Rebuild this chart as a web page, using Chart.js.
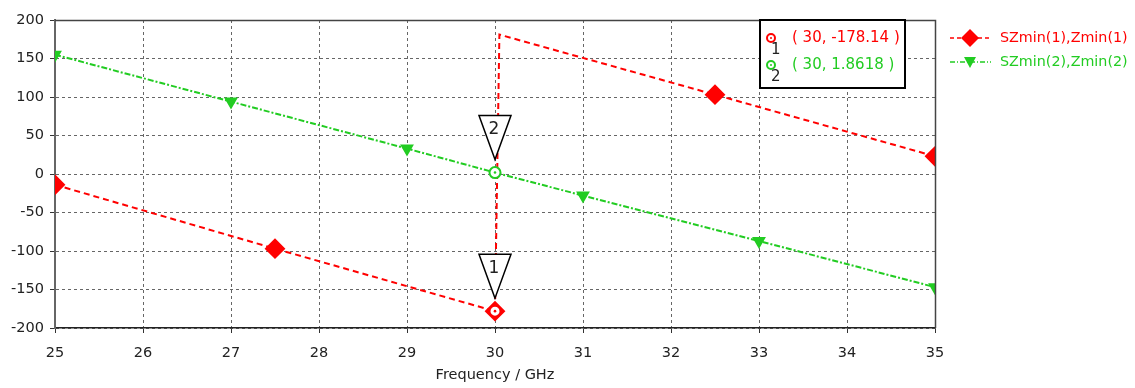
<!DOCTYPE html>
<html>
<head>
<meta charset="utf-8">
<script src="https://cdn.jsdelivr.net/npm/chart.js@4/dist/chart.umd.min.js"></script>
<style>
  html, body { margin: 0; padding: 0; background: #fff; }
  #wrap { width: 1135px; height: 388px; position: relative; }
</style>
</head>
<body>
<div id="wrap"><canvas id="chart"></canvas></div>
<script>
// Phase data (frequency in GHz, phase in degrees)
const freq1 = [25, 27.5, 30, 30.05, 32.5, 35];
const zmin1 = [-14, -97, -178.14, 181, 103, 23];
const marks1 = [true, true, true, false, true, true];

const freq2 = [25, 27, 29, 30, 31, 33, 35];
const zmin2 = [155, 94, 33, 1.8618, -28, -87, -147];
const marks2 = [true, true, true, false, true, true, true];

const seriesNames = ['SZmin(1),Zmin(1)', 'SZmin(2),Zmin(2)'];
const xTicks = [25, 26, 27, 28, 29, 30, 31, 32, 33, 34, 35];
const yTicks = [200, 150, 100, 50, 0, -50, -100, -150, -200];

// curve markers shown in the box
const markerIds = ['1', '2'];
const markerX = [30, 30];
const markerY = [-178.14, 1.8618];

const RED = '#ff0000';
const GREEN = '#22cc22';
const FONT = '"DejaVu Sans", Verdana, sans-serif';

const toPts = (xs, ys) => xs.map((x, i) => ({ x: x, y: ys[i] }));

// frame, legend, marker box and the triangle flags
const extras = {
    id: 'extras',
    afterDatasetsDraw(chart) {
        const { ctx, chartArea: a, scales } = chart;
        ctx.save();

        // top and right border
        ctx.strokeStyle = '#444';
        ctx.lineWidth = 1.5;
        ctx.beginPath();
        ctx.moveTo(a.left, a.top + 0.5);
        ctx.lineTo(a.right + 0.5, a.top + 0.5);
        ctx.lineTo(a.right + 0.5, a.bottom);
        ctx.stroke();

        const colors = [RED, GREEN];

        // marker circles + flags
        markerIds.forEach((id, i) => {
            const px = scales.x.getPixelForValue(markerX[i]);
            const py = scales.y.getPixelForValue(markerY[i]);
            const apex = py - 13;
            const h = 44, w = 32;
            ctx.beginPath();
            ctx.moveTo(px, apex);
            ctx.lineTo(px - w / 2, apex - h);
            ctx.lineTo(px + w / 2, apex - h);
            ctx.closePath();
            ctx.fillStyle = '#fff';
            ctx.fill();
            ctx.strokeStyle = '#000';
            ctx.lineWidth = 1.5;
            ctx.stroke();
            ctx.fillStyle = '#222';
            ctx.font = '17px ' + FONT;
            ctx.textAlign = 'center';
            ctx.textBaseline = 'middle';
            ctx.fillText(id, px - 1, apex - h + 14);
            // circle
            ctx.beginPath();
            ctx.arc(px, py, 5.5, 0, Math.PI * 2);
            ctx.fillStyle = '#fff';
            ctx.fill();
            ctx.lineWidth = 2;
            ctx.strokeStyle = colors[i];
            ctx.stroke();
            ctx.beginPath();
            ctx.arc(px, py, 1.3, 0, Math.PI * 2);
            ctx.fillStyle = colors[i];
            ctx.fill();
        });

        // marker info box
        const bx = 760, by = 20, bw = 145, bh = 68;
        ctx.fillStyle = '#fff';
        ctx.fillRect(bx, by, bw, bh);
        ctx.strokeStyle = '#000';
        ctx.lineWidth = 2;
        ctx.strokeRect(bx, by, bw, bh);
        markerIds.forEach((id, i) => {
            const ly = 38 + i * 27;
            ctx.beginPath();
            ctx.arc(771, ly, 4, 0, Math.PI * 2);
            ctx.lineWidth = 2;
            ctx.strokeStyle = colors[i];
            ctx.stroke();
            ctx.beginPath();
            ctx.arc(771, ly, 1, 0, Math.PI * 2);
            ctx.fillStyle = colors[i];
            ctx.fill();
            ctx.fillStyle = '#222';
            ctx.font = '15px ' + FONT;
            ctx.textAlign = 'left';
            ctx.textBaseline = 'middle';
            ctx.fillText(id, 771, ly + 12);
            ctx.fillStyle = colors[i];
            ctx.font = '15px ' + FONT;
            const v = i === 0 ? markerY[i].toFixed(2) : String(markerY[i]);
            ctx.fillText('( ' + markerX[i] + ', ' + v + ' )', 792, ly);
        });

        // legend on the right
        seriesNames.forEach((name, i) => {
            const ly = 38 + i * 24;
            ctx.strokeStyle = colors[i];
            ctx.lineWidth = 1.5;
            ctx.setLineDash(i === 0 ? [4, 3] : [5, 2, 1, 2]);
            ctx.beginPath();
            ctx.moveTo(950, ly);
            ctx.lineTo(991, ly);
            ctx.stroke();
            ctx.setLineDash([]);
            ctx.fillStyle = colors[i];
            ctx.beginPath();
            if (i === 0) {
                ctx.moveTo(970, ly - 9);
                ctx.lineTo(979, ly);
                ctx.lineTo(970, ly + 9);
                ctx.lineTo(961, ly);
            } else {
                ctx.moveTo(964, ly - 5);
                ctx.lineTo(976, ly - 5);
                ctx.lineTo(970, ly + 6);
            }
            ctx.closePath();
            ctx.fill();
            ctx.font = '14.3px ' + FONT;
            ctx.textAlign = 'left';
            ctx.textBaseline = 'middle';
            ctx.fillText(name, 1000, ly);
        });

        ctx.restore();
    }
};

new Chart(document.getElementById('chart'), {
    type: 'line',
    data: {
        datasets: [{
            label: seriesNames[0],
            data: toPts(freq1, zmin1),
            borderColor: RED,
            backgroundColor: RED,
            borderWidth: 2,
            borderDash: [6, 4],
            pointStyle: 'rectRot',
            pointRadius: marks1.map(m => m ? 9 : 0),
            pointHoverRadius: 0,
            tension: 0
        }, {
            label: seriesNames[1],
            data: toPts(freq2, zmin2),
            borderColor: GREEN,
            backgroundColor: GREEN,
            borderWidth: 2,
            borderDash: [6, 2, 2, 2],
            pointStyle: 'triangle',
            rotation: 180,
            pointRadius: marks2.map(m => m ? 6 : 0),
            pointHoverRadius: 0,
            tension: 0
        }]
    },
    options: {
        responsive: true,
        maintainAspectRatio: false,
        animation: false,
        layout: { padding: { top: 20, right: 200, left: 0, bottom: 0 } },
        plugins: {
            legend: { display: false },
            tooltip: { enabled: false }
        },
        scales: {
            x: {
                type: 'linear',
                min: 25,
                max: 35,
                afterBuildTicks: s => { s.ticks = xTicks.map(v => ({ value: v })); },
                afterFit: s => { s.height = 60; },
                ticks: {
                    color: '#222',
                    font: { family: FONT, size: 14.5 },
                    padding: 12,
                    maxRotation: 0
                },
                grid: {
                    color: '#666',
                    tickLength: 5,
                    tickBorderDash: [],
                    tickColor: '#333'
                },
                border: { display: true, color: '#222', width: 1.5, dash: [3, 3] },
                title: {
                    display: true,
                    text: 'Frequency / GHz',
                    color: '#222',
                    font: { family: FONT, size: 14.5 },
                    padding: { top: 0 }
                }
            },
            y: {
                min: -200,
                max: 200,
                afterBuildTicks: s => { s.ticks = yTicks.map(v => ({ value: v })); },
                afterFit: s => { s.width = 55; },
                ticks: {
                    color: '#222',
                    font: { family: FONT, size: 14.5 },
                    padding: 6
                },
                grid: {
                    color: '#666',
                    tickLength: 5,
                    tickBorderDash: [],
                    tickColor: '#333'
                },
                border: { display: true, color: '#666', width: 2, dash: [3, 3] }
            }
        }
    },
    plugins: [extras]
});
</script>
</body>
</html>
